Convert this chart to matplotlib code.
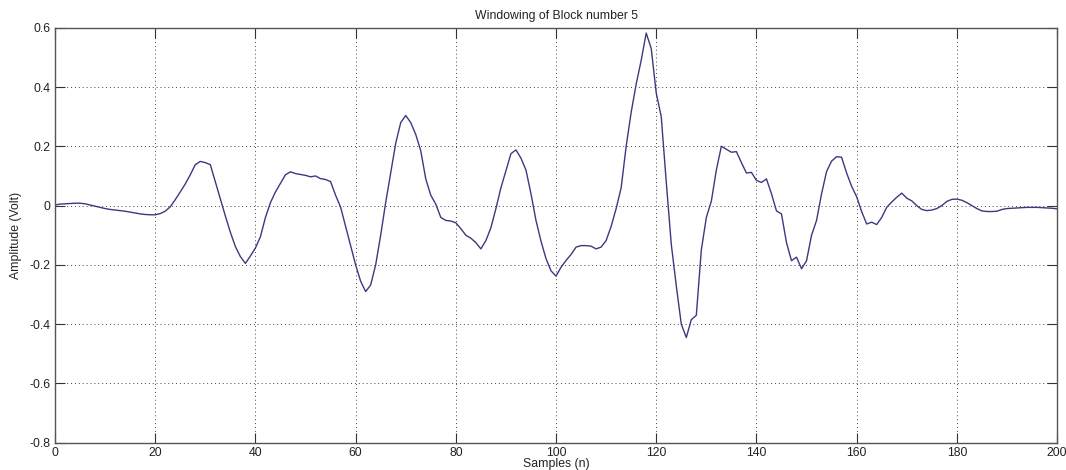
#!/usr/bin/env python3
# -*- coding: utf-8 -*

import matplotlib
matplotlib.use('Agg')
import matplotlib.pyplot as plt
import numpy as np

# samples 0..200
amplitude = [
    0.002, 0.005, 0.006, 0.007, 0.008, 0.008, 0.006, 0.002, -0.002, -0.006,
    -0.010, -0.013, -0.015, -0.017, -0.019, -0.022, -0.025, -0.028, -0.030, -0.031,
    -0.031, -0.027, -0.019, -0.004, 0.020, 0.046, 0.073, 0.104, 0.138, 0.149,
    0.145, 0.138, 0.080, 0.022, -0.035, -0.090, -0.138, -0.172, -0.195, -0.170,
    -0.143, -0.105, -0.040, 0.010, 0.046, 0.075, 0.104, 0.114, 0.108, 0.105,
    0.102, 0.097, 0.100, 0.091, 0.088, 0.081, 0.035, -0.005, -0.070, -0.135,
    -0.200, -0.255, -0.290, -0.268, -0.200, -0.100, 0.010, 0.110, 0.210, 0.280,
    0.304, 0.280, 0.240, 0.185, 0.090, 0.035, 0.005, -0.040, -0.050, -0.052,
    -0.058, -0.078, -0.100, -0.110, -0.125, -0.146, -0.118, -0.075, -0.010, 0.060,
    0.118, 0.175, 0.188, 0.160, 0.120, 0.040, -0.050, -0.120, -0.179, -0.220,
    -0.238, -0.208, -0.185, -0.165, -0.140, -0.135, -0.135, -0.137, -0.146, -0.140,
    -0.118, -0.070, -0.010, 0.060, 0.200, 0.315, 0.410, 0.490, 0.582, 0.530,
    0.380, 0.300, 0.080, -0.130, -0.270, -0.400, -0.445, -0.385, -0.370, -0.150,
    -0.040, 0.015, 0.120, 0.200, 0.190, 0.180, 0.182, 0.145, 0.110, 0.112,
    0.085, 0.078, 0.090, 0.040, -0.018, -0.028, -0.125, -0.186, -0.174, -0.213,
    -0.186, -0.100, -0.050, 0.040, 0.115, 0.150, 0.165, 0.163, 0.110, 0.065,
    0.030, -0.020, -0.062, -0.056, -0.064, -0.040, -0.006, 0.012, 0.028, 0.042,
    0.025, 0.016, 0.000, -0.013, -0.017, -0.015, -0.010, 0.000, 0.014, 0.021,
    0.022, 0.018, 0.010, 0.000, -0.010, -0.018, -0.020, -0.020, -0.019, -0.013,
    -0.010, -0.009, -0.008, -0.007, -0.006, -0.006, -0.006, -0.007, -0.008, -0.009,
    -0.011,
]
samples = np.arange(len(amplitude))

xticks = np.arange(0, 201, 20)
yticks = [-0.8, -0.6, -0.4, -0.2, 0, 0.2, 0.4, 0.6]
ytick_labels = ['-0.8', '-0.6', '-0.4', '-0.2', '0', '0.2', '0.4', '0.6']

plt.rcParams['font.family'] = ['Liberation Sans', 'DejaVu Sans']

fig = plt.figure(figsize=(10.66, 4.70), dpi=100)
ax = fig.add_axes([0.0516, 0.058, 0.94, 0.883])

ax.plot(samples, amplitude, color='#3a3a80', linewidth=1.0)

ax.set_xlim(0, 200)
ax.set_ylim(-0.8, 0.6)
ax.set_xticks(xticks)
ax.set_yticks(yticks)
ax.set_yticklabels(ytick_labels)

ax.grid(True, color='#444444', linestyle=(0, (1, 3)), linewidth=0.7)
ax.tick_params(direction='in', length=7, width=0.8, color='#333333',
               top=True, right=True, labelsize=8.8, labelcolor='#222222', pad=3)
for sp in ax.spines.values():
    sp.set_color('#555555')
    sp.set_linewidth(1.0)

ax.set_title('Windowing of Block number 5', fontsize=8.8, color='#222222', pad=6)
ax.set_xlabel('Samples (n)', fontsize=8.8, color='#222222', labelpad=-1)
ax.set_ylabel('Amplitude (Volt)', fontsize=8.8, color='#222222', labelpad=6)

fig.savefig('out.png', dpi=100)
